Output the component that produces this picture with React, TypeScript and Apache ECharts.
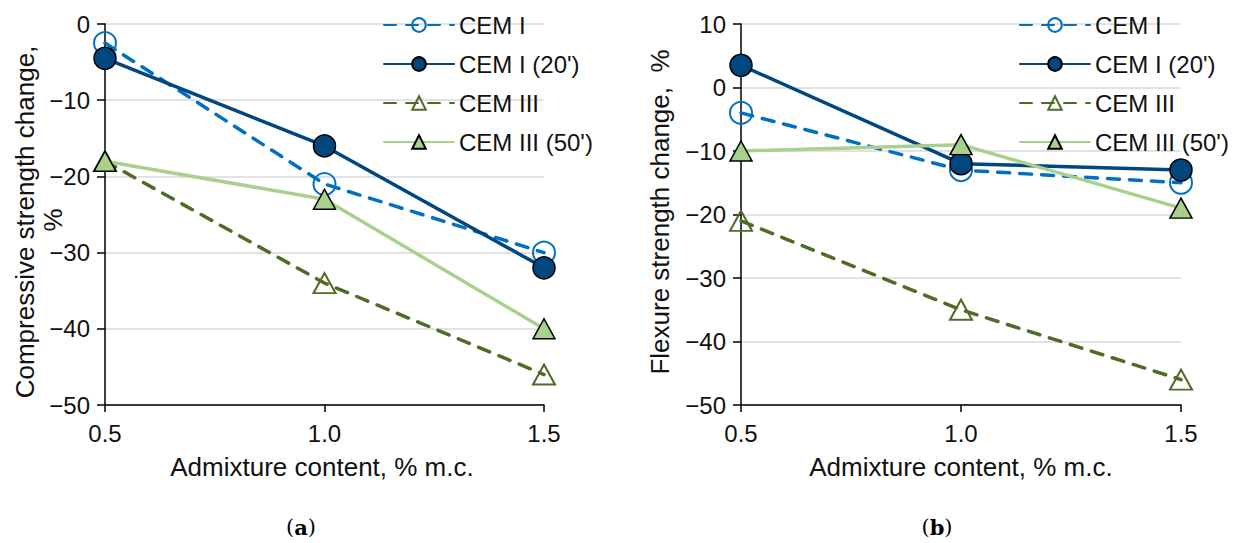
import React, { useEffect, useRef } from "react";
import * as echarts from "echarts";

const xValues = [0.5, 1.0, 1.5];
const seriesNames = ["CEM I", "CEM I (20')", "CEM III", "CEM III (50')"];

const compCEMI = [-2.5, -21, -30];
const compCEMI20 = [-4.5, -16, -32];
const compCEMIII = [-18, -34, -46];
const compCEMIII50 = [-18, -23, -40];

const flexCEMI = [-4, -13, -15];
const flexCEMI20 = [3.5, -12, -13];
const flexCEMIII = [-21, -35, -46];
const flexCEMIII50 = [-10, -9, -19];

const leftYTicks = { min: -50, max: 0, interval: 10 };
const rightYTicks = { min: -50, max: 10, interval: 10 };

const FONT = "'Liberation Sans', Arial, sans-serif";
const SERIF = "'DejaVu Serif', 'Liberation Serif', serif";
const C_BLUE = "#0070C0";
const C_DBLUE = "#00467F";
const C_DGREEN = "#4E6B27";
const C_LGREEN = "#A9D18E";
const TXT = "#111";

function pairs(vals: number[]) {
  return xValues.map((x, i) => [x, vals[i]]);
}

function makeSeries(idx: number, data: number[][]) {
  const dash = [12, 10];
  return [
    {
      name: seriesNames[0], type: "line", xAxisIndex: idx, yAxisIndex: idx,
      data: pairs(data[0]), symbol: "circle", symbolSize: 22,
      lineStyle: { color: C_BLUE, width: 3.5, type: dash, cap: "round" },
      itemStyle: { color: "rgba(255,255,255,0)", borderColor: C_BLUE, borderWidth: 2 },
      z: 2,
    },
    {
      name: seriesNames[1], type: "line", xAxisIndex: idx, yAxisIndex: idx,
      data: pairs(data[1]), symbol: "circle", symbolSize: 22,
      lineStyle: { color: C_DBLUE, width: 3.5, cap: "round" },
      itemStyle: { color: C_DBLUE, borderColor: "#000", borderWidth: 1.5 },
      z: 3,
    },
    {
      name: seriesNames[2], type: "line", xAxisIndex: idx, yAxisIndex: idx,
      data: pairs(data[2]), symbol: "triangle", symbolSize: [22, 20],
      lineStyle: { color: C_DGREEN, width: 3.5, type: dash, cap: "round" },
      itemStyle: { color: "rgba(255,255,255,0)", borderColor: C_DGREEN, borderWidth: 2 },
      z: 4,
    },
    {
      name: seriesNames[3], type: "line", xAxisIndex: idx, yAxisIndex: idx,
      data: pairs(data[3]), symbol: "triangle", symbolSize: [22, 20],
      lineStyle: { color: C_LGREEN, width: 3.5, cap: "round" },
      itemStyle: { color: C_LGREEN, borderColor: "#000", borderWidth: 1.5 },
      z: 5,
    },
  ];
}

const minusFmt = (v: number) => String(v).replace("-", "\u2212");

function xAxisDef(idx: number) {
  return {
    type: "value", gridIndex: idx, min: 0.5, max: 1.5, interval: 0.5,
    axisLine: { onZero: false, lineStyle: { color: "#000", width: 1.5 } },
    axisTick: { show: true, length: 7, lineStyle: { color: "#000", width: 1.5 } },
    axisLabel: { color: TXT, fontSize: 24, fontFamily: FONT, margin: 16, formatter: (v: number) => v.toFixed(1) },
    splitLine: { show: false },
  };
}

function yAxisDef(idx: number, t: { min: number; max: number; interval: number }) {
  return {
    type: "value", gridIndex: idx, min: t.min, max: t.max, interval: t.interval,
    axisLine: { show: true, onZero: false, lineStyle: { color: "#000", width: 1.5 } },
    axisTick: { show: true, length: 8, lineStyle: { color: "#000", width: 1.5 } },
    axisLabel: { color: TXT, fontSize: 24, fontFamily: FONT, margin: 15, formatter: minusFmt },
    splitLine: { show: true, lineStyle: { color: "#D9D9D9", width: 1.5 } },
  };
}

function legendDef(left: number) {
  return {
    left, top: 8, padding: 5, orient: "vertical", itemWidth: 70, itemHeight: 17, itemGap: 15,
    data: seriesNames,
    textStyle: { color: TXT, fontSize: 24, fontFamily: FONT },
    selectedMode: false,
  };
}

export default function App() {
  const ref = useRef<HTMLDivElement>(null);
  useEffect(() => {
    if (!ref.current) return;
    const chart = echarts.init(ref.current, null, { renderer: "svg" });
    const option: any = {
      animation: false,
      backgroundColor: "#fff",
      grid: [
        { left: 105, top: 24, width: 439, height: 381 },
        { left: 741, top: 24, width: 440, height: 381 },
      ],
      xAxis: [xAxisDef(0), xAxisDef(1)],
      yAxis: [yAxisDef(0, leftYTicks), yAxisDef(1, rightYTicks)],
      legend: [legendDef(378), legendDef(1014)],
      series: [
        ...makeSeries(0, [compCEMI, compCEMI20, compCEMIII, compCEMIII50]),
        ...makeSeries(1, [flexCEMI, flexCEMI20, flexCEMIII, flexCEMIII50]),
      ],
      graphic: [
        {
          type: "text", x: 25, y: 222, rotation: Math.PI / 2,
          style: { text: "Compressive strength change,", fill: TXT, font: `26px ${FONT}`, align: "center", verticalAlign: "middle" },
        },
        {
          type: "text", x: 53, y: 220, rotation: Math.PI / 2,
          style: { text: "%", fill: TXT, font: `26px ${FONT}`, align: "center", verticalAlign: "middle" },
        },
        {
          type: "text", x: 660, y: 212, rotation: Math.PI / 2,
          style: { text: "Flexure strength change,  %", fill: TXT, font: `26px ${FONT}`, align: "center", verticalAlign: "middle" },
        },
        {
          type: "text", x: 322, y: 467,
          style: { text: "Admixture content, % m.c.", fill: TXT, font: `26px ${FONT}`, align: "center", verticalAlign: "middle" },
        },
        {
          type: "text", x: 961, y: 467,
          style: { text: "Admixture content, % m.c.", fill: TXT, font: `26px ${FONT}`, align: "center", verticalAlign: "middle" },
        },
        {
          type: "text", x: 301, y: 527,
          style: {
            text: "{p|(}{b|a}{p|)}", align: "center", verticalAlign: "middle",
            rich: {
              p: { fontFamily: SERIF, fontSize: 21, fill: "#000" },
              b: { fontFamily: SERIF, fontSize: 21, fontWeight: "bold", fill: "#000" },
            },
          },
        },
        {
          type: "text", x: 937, y: 527,
          style: {
            text: "{p|(}{b|b}{p|)}", align: "center", verticalAlign: "middle",
            rich: {
              p: { fontFamily: SERIF, fontSize: 21, fill: "#000" },
              b: { fontFamily: SERIF, fontSize: 21, fontWeight: "bold", fill: "#000" },
            },
          },
        },
      ],
    };
    chart.setOption(option);
    return () => chart.dispose();
  }, []);
  return (
    <div
      ref={ref}
      style={{ position: "absolute", left: 0, top: 0, width: 1236, height: 543 }}
    />
  );
}
